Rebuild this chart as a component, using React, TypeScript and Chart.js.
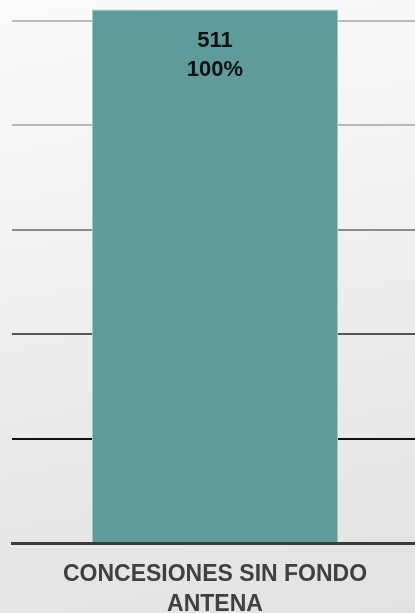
import React, { useEffect, useRef } from "react";
import { Chart, registerables } from "chart.js";

Chart.register(...registerables);

const categories: string[][] = [["CONCESIONES SIN FONDO", "ANTENA"]];
const counts: number[] = [511];
const percents: string[] = ["100%"];
const yTicks: number[] = [0, 100, 200, 300, 400, 500];
const gridColors: string[] = ["rgba(0,0,0,0)", "#111111", "#555555", "#8a8a8a", "#b8b8b8", "#bdbdbd"];

const labelPlugin = {
  id: "barLabels",
  afterDatasetsDraw(chart: any) {
    const ctx = chart.ctx;
    const meta = chart.getDatasetMeta(0);
    ctx.save();
    ctx.font = "bold 22px 'Liberation Sans', Arial, sans-serif";
    ctx.fillStyle = "#111111";
    ctx.textAlign = "center";
    ctx.textBaseline = "middle";
    meta.data.forEach((bar: any, i: number) => {
      ctx.fillText(String(counts[i]), bar.x, bar.y + 32);
      ctx.fillText(percents[i], bar.x, bar.y + 61);
    });
    ctx.restore();
  },
};

export default function App() {
  const ref = useRef<HTMLCanvasElement | null>(null);
  useEffect(() => {
    if (!ref.current) return;
    const chart = new Chart(ref.current, {
      type: "bar",
      data: {
        labels: categories,
        datasets: [
          {
            data: counts,
            backgroundColor: "#5f9b9b",
            borderColor: "#a3c8c8",
            borderWidth: 1,
            categoryPercentage: 1,
            barPercentage: 0.606,
          },
        ],
      },
      options: {
        responsive: false,
        animation: false,
        layout: { padding: { left: 12, right: 0, top: 0, bottom: 0 } },
        plugins: { legend: { display: false }, tooltip: { enabled: false } },
        scales: {
          x: {
            grid: { display: false, drawTicks: false },
            border: { display: true, color: "#3a3a3a", width: 3 },
            ticks: {
              padding: 16.5,
              color: "#404040",
              font: { family: "'Liberation Sans', Arial, sans-serif", size: 23, weight: "bold", lineHeight: 1.3 },
            },
          },
          y: {
            min: 0,
            max: 520,
            afterBuildTicks: (scale: any) => {
              scale.ticks = yTicks.map((v) => ({ value: v }));
            },
            ticks: { display: false },
            border: { display: false },
            grid: {
              drawTicks: false,
              lineWidth: 2,
              color: (ctx: any) => gridColors[ctx.index] ?? "#bbbbbb",
            },
          },
        },
      },
      plugins: [labelPlugin],
    });
    return () => chart.destroy();
  }, []);
  return (
    <div
      style={{
        position: "fixed",
        left: 0,
        top: 0,
        width: 415,
        height: 613,
        overflow: "hidden",
        background: "linear-gradient(170deg, #fbfbfb 0%, #eeeeee 50%, #e2e2e2 100%)",
      }}
    >
      <canvas ref={ref} width={418} height={636} />
    </div>
  );
}
